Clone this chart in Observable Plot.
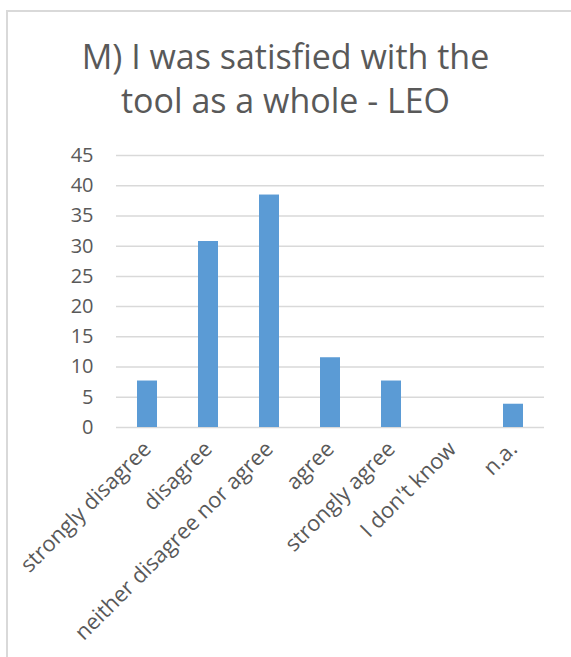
<!DOCTYPE html>
<html>
<head>
<meta charset="utf-8">
<script src="https://cdn.jsdelivr.net/npm/d3@7"></script>
<script src="https://cdn.jsdelivr.net/npm/@observablehq/plot@0.6"></script>
<style>
  html, body { margin: 0; padding: 0; background: #fff; }
  body { position: relative; width: 571px; height: 657px; overflow: hidden; font-family: "Open Sans", sans-serif; }
  #frame { position: absolute; left: 6px; top: 10px; width: 640px; height: 720px; border: 2px solid #d9d9d9; box-sizing: border-box; }
  #title { position: absolute; left: 0; top: 34px; width: 571px; text-align: center; font-size: 34px; line-height: 44px; color: #595959; }
  #chart { position: absolute; left: 0; top: 130px; }
</style>
</head>
<body>
<div id="frame"></div>
<div id="title">M) I was satisfied with the<br>tool as a whole - LEO</div>
<div id="chart"></div>
<script>
// Response categories and their share of answers (%)
const categories = ["strongly disagree", "disagree", "neither disagree nor agree", "agree", "strongly agree", "I don't know", "n.a."];
const percentages = [7.69, 30.77, 38.46, 11.54, 7.69, 0, 3.85];
const yTicks = [0, 5, 10, 15, 20, 25, 30, 35, 40, 45];

const data = categories.map((c, i) => ({category: c, value: percentages[i]}));

const chart = Plot.plot({
  width: 571,
  height: 527,
  marginLeft: 116,
  marginRight: 27,
  marginTop: 25,
  marginBottom: 230,
  style: {fontFamily: "Open Sans, sans-serif", fontSize: "20px", color: "#595959", background: "transparent"},
  x: {domain: categories, paddingInner: 0.68, paddingOuter: 0.34, label: null},
  y: {domain: [0, 45], label: null},
  marks: [
    Plot.gridY(yTicks, {stroke: "#d9d9d9", strokeOpacity: 1, strokeWidth: 1.5}),
    Plot.barY(data, {x: "category", y: "value", fill: "#5b9bd5"}),
    Plot.axisY(yTicks, {tickSize: 0, tickPadding: 23, fontSize: 20}),
    Plot.axisX({tickSize: 0, tickRotate: -45, tickPadding: 18, fontSize: 21.8})
  ]
});
document.getElementById("chart").appendChild(chart);
</script>
</body>
</html>
